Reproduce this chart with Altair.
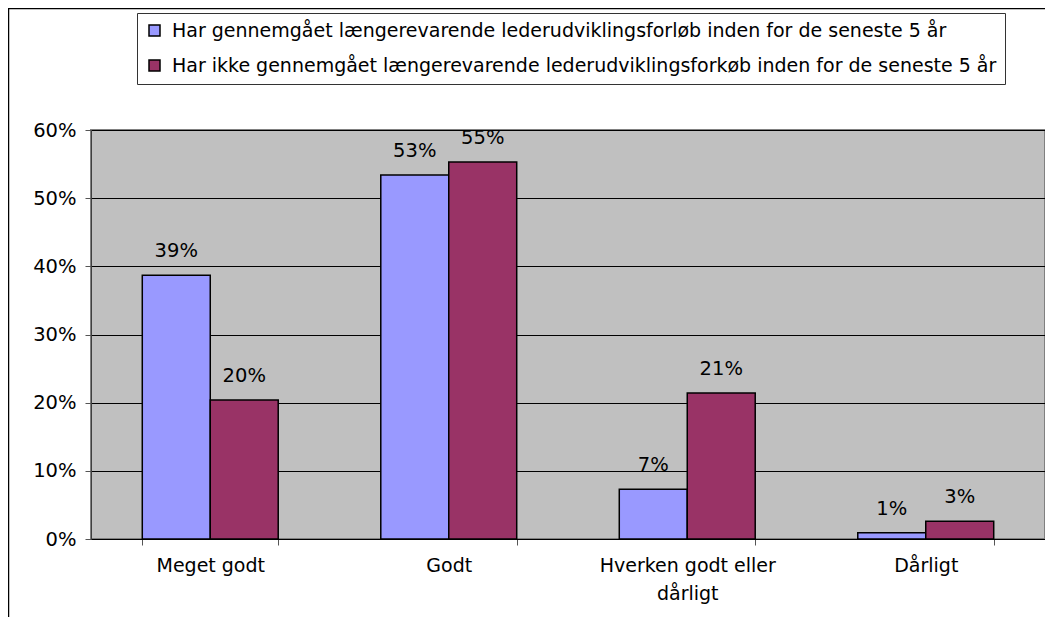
import altair as alt
import pandas as pd

categories = ["Meget godt", "Godt", "Hverken godt eller dårligt", "Dårligt"]
series = [
    "Har gennemgået længerevarende lederudviklingsforløb inden for de seneste 5 år",
    "Har ikke gennemgået længerevarende lederudviklingsforkøb inden for de seneste 5 år",
]
values_1 = [0.387, 0.534, 0.073, 0.009]
values_2 = [0.204, 0.553, 0.214, 0.026]
colors = ["#9999FF", "#993366"]

rows = []
for c, v1, v2 in zip(categories, values_1, values_2):
    rows.append({"cat": c, "series": series[0], "value": v1})
    rows.append({"cat": c, "series": series[1], "value": v2})
df = pd.DataFrame(rows)

FONT = "DejaVu Sans"

x_enc = alt.X(
    "cat:N",
    sort=categories,
    scale=alt.Scale(paddingInner=0.43, paddingOuter=0.215),
    axis=alt.Axis(
        title=None,
        labelAngle=0,
        tickBand="extent",
        tickSize=6,
        tickColor="#555555",
        domainColor="#000000",
        labelFont=FONT,
        labelFontSize=19,
        labelColor="#000000",
        labelPadding=11,
        labelLineHeight=28,
        labelBaseline="top",
        labelExpr="datum.label == 'Hverken godt eller dårligt' ? ['Hverken godt eller', 'dårligt'] : datum.label",
        grid=False,
    ),
)
xoff = alt.XOffset("series:N", sort=series, scale=alt.Scale(paddingInner=0, paddingOuter=0))
y_enc = alt.Y(
    "value:Q",
    scale=alt.Scale(domain=[0, 0.6], nice=False),
    axis=alt.Axis(
        title=None,
        format=".0%",
        values=[0, 0.1, 0.2, 0.3, 0.4, 0.5, 0.6],
        tickSize=6,
        tickColor="#555555",
        domainColor="#404040",
        gridColor="#000000",
        gridWidth=1,
        labelFont=FONT,
        labelFontSize=19.5,
        labelColor="#000000",
        labelPadding=9,
    ),
)

bars = alt.Chart(df).mark_bar(stroke="#000000", strokeWidth=1.5).encode(
    x=x_enc,
    xOffset=xoff,
    y=y_enc,
    color=alt.Color(
        "series:N",
        sort=series,
        scale=alt.Scale(domain=series, range=colors),
        legend=alt.Legend(
            title=None,
            orient="none",
            legendX=46,
            legendY=-117,
            direction="vertical",
            symbolType="square",
            symbolSize=121,
            symbolStrokeColor="#000000",
            symbolStrokeWidth=1.5,
            labelFont=FONT,
            labelFontSize=19,
            labelColor="#000000",
            labelOffset=8,
            labelLimit=0,
            rowPadding=15,
            padding=8,
            strokeColor="#333333",
            fillColor="#FFFFFF",
        ),
    ),
)

labels = alt.Chart(df).mark_text(
    dy=-24, baseline="middle", font=FONT, fontSize=19.5, color="#000000"
).encode(
    x=alt.X("cat:N", sort=categories),
    xOffset=xoff,
    y="value:Q",
    text=alt.Text("value:Q", format=".0%"),
)

frame_df = pd.DataFrame({"k": [0]})
top_line = alt.Chart(frame_df).mark_rule(color="#000000", strokeWidth=2.5).encode(
    x=alt.value(-83), x2=alt.value(960), y=alt.value(-122)
)
left_line = alt.Chart(frame_df).mark_rule(color="#000000", strokeWidth=2.5).encode(
    x=alt.value(-83), y=alt.value(-122), y2=alt.value(500)
)

chart = (
    alt.layer(bars, labels, top_line, left_line)
    .properties(
        width=954,
        height=409,
        autosize=alt.AutoSizeParams(type="none"),
        padding={"left": 83, "top": 122, "right": 0, "bottom": 78},
        background="#FFFFFF",
    )
    .configure_view(fill="#C0C0C0", stroke="#808080", strokeWidth=2)
)

chart.save("out.html", embed_options={"renderer": "svg", "actions": False})
